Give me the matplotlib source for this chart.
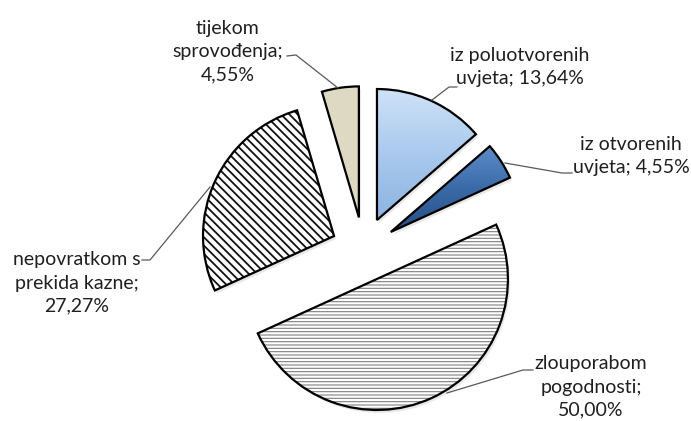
import matplotlib
matplotlib.use("Agg")
import matplotlib.pyplot as plt
import numpy as np
from matplotlib.colors import LinearSegmentedColormap
from matplotlib.patches import Wedge

# ---- data ----
categories = ["iz poluotvorenih uvjeta", "iz otvorenih uvjeta", "zlouporabom pogodnosti",
              "nepovratkom s prekida kazne", "tijekom sprovođenja"]
values = [13.64, 4.55, 50.00, 27.27, 4.55]
labels = ["iz poluotvorenih\nuvjeta; 13,64%",
          "iz otvorenih\nuvjeta; 4,55%",
          "zlouporabom\npogodnosti;\n50,00%",
          "nepovratkom s\nprekida kazne;\n27,27%",
          "tijekom\nsprovođenja;\n4,55%"]

plt.rcParams['font.family'] = ['Lato', 'DejaVu Sans']

W, H = 691, 421
fig = plt.figure(figsize=(W / 100, H / 100), dpi=100)
ax = fig.add_axes([0, 0, 1, 1])

center = (363.5, 249.5)
radius = 131
explode = [32.4] * len(values)   # pixel offset (pie in pixel coordinates)

wedges, _ = ax.pie(values, explode=explode, radius=radius, center=center,
                   startangle=270, counterclock=True,
                   wedgeprops=dict(linewidth=1.6, edgecolor='black'))

fills = ['grad1', 'grad2', 'hatch-', 'hatch\\', '#ddd9c3']
for w, f in zip(wedges, fills):
    w.set_zorder(3)
    if f.startswith('grad') or f.startswith('hatch'):
        w.set_facecolor('none')
    else:
        w.set_facecolor(f)

ax.set_xlim(0, W)
ax.set_ylim(H, 0)
ax.set_aspect('equal')
ax.axis('off')

# subtle shadows
for w in wedges:
    sh = Wedge((w.center[0] + 2, w.center[1] + 3), w.r, w.theta1, w.theta2,
               facecolor='#bfbfbf', edgecolor='none', alpha=0.35, zorder=0.5)
    ax.add_patch(sh)

# gradient fills for the two blue slices
grads = {
    'grad1': LinearSegmentedColormap.from_list('g1', ['#cfe2f7', '#a9c9ee', '#8cb3e0']),
    'grad2': LinearSegmentedColormap.from_list('g2', ['#5d8ccb', '#3a6aa6', '#264f84']),
}
for w, f in zip(wedges, fills):
    if f in grads:
        verts = w.get_path().vertices
        x0, x1 = verts[:, 0].min(), verts[:, 0].max()
        y0, y1 = verts[:, 1].min(), verts[:, 1].max()
        g = np.linspace(0, 1, 256).reshape(-1, 1)
        im = ax.imshow(g, cmap=grads[f], aspect='auto', extent=(x0, x1, y1, y0),
                       origin='upper', zorder=1, interpolation='bicubic')
        im.set_clip_path(w)

# hatch layers
hatch_specs = {'hatch-': ('-----', '#808080', 0.8),
               'hatch\\': ('\\\\\\\\', '#111111', 1.3)}
for w, f in zip(wedges, fills):
    if f in hatch_specs:
        pat, col, lw = hatch_specs[f]
        with plt.rc_context({'hatch.linewidth': lw}):
            hp = Wedge(w.center, w.r, w.theta1, w.theta2, facecolor='white',
                       edgecolor=col, linewidth=0, hatch=pat, zorder=2)
            if hasattr(hp, 'set_hatch_linewidth'):
                hp.set_hatch_linewidth(lw)
        ax.add_patch(hp)

ax.set_xlim(0, W)
ax.set_ylim(H, 0)

# labels
label_pos = [(520, 67), (631, 156), (591, 387), (77, 283), (228, 52)]
for txt, (x, y) in zip(labels, label_pos):
    ax.text(x, y, txt, ha='center', va='center', fontsize=14, color='#1f1f1f',
            linespacing=1.45, zorder=5)

# leader lines
leaders = [
    [(432, 100), (449, 87), (457, 87)],
    [(505, 163), (562, 173), (572, 173)],
    [(447, 393), (523, 370), (533, 370)],
    [(210, 187), (150, 260), (142, 260)],
    [(338, 88), (296, 55), (287, 56)],
]
for pts in leaders:
    xs, ys = zip(*pts)
    ax.plot(xs, ys, color='#595959', linewidth=0.9, zorder=4)

fig.savefig('out.png', dpi=100)
